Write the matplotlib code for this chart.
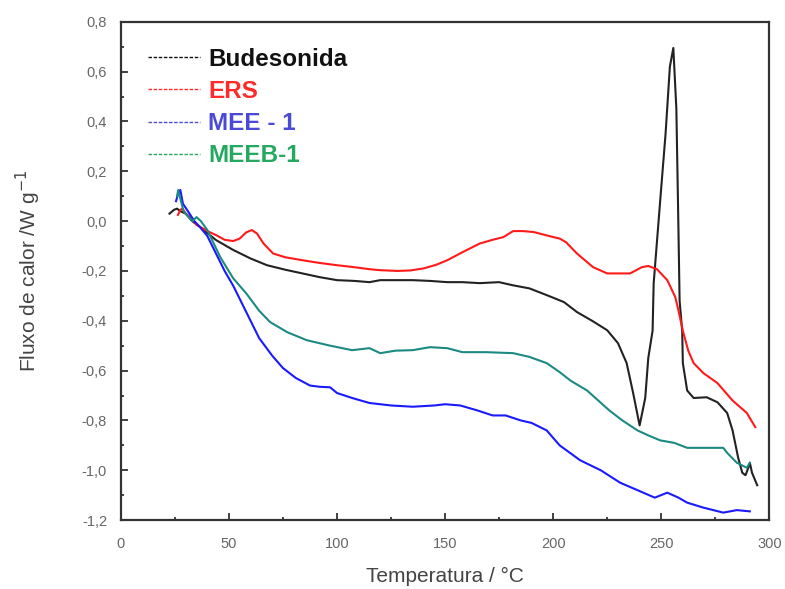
import matplotlib.pyplot as plt
from matplotlib.lines import Line2D
from matplotlib.ticker import MultipleLocator, FuncFormatter

plt.rcParams['font.family'] = ['Liberation Sans', 'DejaVu Sans']

# Budesonida
bud_t = [22.5, 24.5, 26, 27.5, 30, 33, 36.6, 44, 52, 60, 67.6, 76, 84, 92, 100, 108, 115,
         120, 128, 135, 143, 151, 158, 166, 175, 181, 189, 197, 205, 211, 218, 225, 230,
         234, 237, 240, 242.6, 244, 246, 246.5, 249.5, 252, 254, 255.6, 257, 258, 258.5,
         259.7, 260, 262, 265, 271, 276, 280.5, 283, 285.6, 287.5, 289, 290.3, 291, 292, 294.4]
bud_f = [0.03, 0.045, 0.05, 0.04, 0.03, 0.0, -0.024, -0.076, -0.116, -0.15, -0.177, -0.195,
         -0.21, -0.225, -0.237, -0.24, -0.245, -0.237, -0.237, -0.237, -0.24, -0.245, -0.245,
         -0.249, -0.245, -0.257, -0.27, -0.297, -0.325, -0.365, -0.4, -0.438, -0.49, -0.57,
         -0.69, -0.82, -0.71, -0.55, -0.44, -0.25, 0.08, 0.35, 0.62, 0.695, 0.45, -0.05, -0.32,
         -0.44, -0.57, -0.68, -0.71, -0.707, -0.727, -0.77, -0.84, -0.95, -1.01, -1.02, -0.99,
         -0.97, -1.01, -1.06]

# ERS
ers_t = [26.4, 27.5, 28.5, 30, 33, 35, 40, 44, 48, 52, 55, 58, 60.6, 63, 66, 70.4, 76, 84,
         92, 100, 108, 115, 120, 128, 134, 140, 146, 151, 158, 166, 172, 177, 181.5, 186, 191,
         196, 200, 203, 206, 211, 218.5, 225, 230, 235.6, 241, 244, 248, 252.8, 256.5, 258,
         260, 262.5, 265, 269.5, 276, 283, 289.6, 293.5]
ers_f = [0.025, 0.045, 0.05, 0.03, 0.01, -0.015, -0.04, -0.056, -0.075, -0.08, -0.07, -0.045,
         -0.036, -0.05, -0.09, -0.13, -0.145, -0.157, -0.168, -0.177, -0.185, -0.193, -0.197,
         -0.2, -0.198, -0.19, -0.175, -0.157, -0.125, -0.09, -0.075, -0.064, -0.04, -0.04,
         -0.044, -0.055, -0.064, -0.07, -0.085, -0.13, -0.185, -0.21, -0.21, -0.21, -0.185,
         -0.18, -0.193, -0.237, -0.305, -0.36, -0.44, -0.52, -0.57, -0.61, -0.65, -0.72,
         -0.77, -0.827]

# MEE - 1
mee_t = [25.5, 26.5, 27.5, 28.7, 31, 34, 36.6, 40, 44, 48, 52, 56, 60, 64, 70, 75, 81, 87.5,
         92, 96.8, 100, 107, 115, 125, 135, 145, 150, 157, 165, 172, 178, 185, 190, 197, 203,
         212.5, 222, 231, 241.7, 247, 252.8, 258, 262, 269.5, 278.7, 285, 291]
mee_f = [0.08, 0.11, 0.125, 0.07, 0.04, 0.0, -0.024, -0.06, -0.13, -0.2, -0.26, -0.33, -0.4,
         -0.47, -0.54, -0.59, -0.63, -0.66, -0.665, -0.667, -0.69, -0.71, -0.73, -0.74, -0.745,
         -0.74, -0.735, -0.74, -0.76, -0.78, -0.78, -0.8, -0.81, -0.84, -0.9, -0.96, -1.0,
         -1.05, -1.09, -1.11, -1.09, -1.11, -1.13, -1.15, -1.17, -1.16, -1.165]

# MEEB-1
meeb_t = [26, 26.5, 27.5, 29, 31, 33, 35, 37, 40, 46, 52, 58, 64, 69, 77, 86, 96.8, 107, 115,
          120, 127, 135, 143, 151, 158, 169, 181.5, 189, 197, 203, 208, 215.7, 226, 232, 239,
          244, 249.5, 256, 262, 271, 278.7, 280.5, 285, 289.6, 291]
meeb_f = [0.1, 0.125, 0.09, 0.04, 0.02, 0.0, 0.016, 0.0, -0.036, -0.145, -0.23, -0.29, -0.36,
          -0.405, -0.446, -0.478, -0.5, -0.518, -0.51, -0.53, -0.52, -0.518, -0.506, -0.51,
          -0.526, -0.526, -0.53, -0.545, -0.57, -0.606, -0.64, -0.68, -0.76, -0.8, -0.84,
          -0.86, -0.88, -0.89, -0.91, -0.91, -0.91, -0.93, -0.97, -0.99, -0.97]

labels = ['Budesonida', 'ERS', 'MEE - 1', 'MEEB-1']
line_colors = ['#222222', '#ff1a1a', '#1a1aff', '#1b8a82']
legend_colors = ['#111111', '#ff2a2a', '#4a4ad6', '#25a860']

fig = plt.figure(figsize=(7.85, 5.89), dpi=100)
ax = fig.add_axes([0.154, 0.117, 0.826, 0.846])

for t, f, c in zip([bud_t, ers_t, mee_t, meeb_t], [bud_f, ers_f, mee_f, meeb_f], line_colors):
    ax.plot(t, f, color=c, lw=1.5)

ax.set_xlim(0, 300)
ax.set_ylim(-1.2, 0.8)
ax.xaxis.set_major_locator(MultipleLocator(50))
ax.xaxis.set_minor_locator(MultipleLocator(25))
ax.yaxis.set_major_locator(MultipleLocator(0.2))
ax.yaxis.set_minor_locator(MultipleLocator(0.1))
ax.yaxis.set_major_formatter(FuncFormatter(lambda v, p: f'{v:.1f}'.replace('.', ',').replace('-0,0', '0,0')))
ax.tick_params(which='both', direction='in', top=False, right=False,
               labelsize=10.5, labelcolor='#666666', color='#333333', width=1.3)
ax.tick_params(axis='x', which='major', length=5, pad=12)
ax.tick_params(axis='y', which='major', length=5, pad=10)
ax.tick_params(which='minor', length=2.5)
for s in ax.spines.values():
    s.set_linewidth(1.6)
    s.set_color('#333333')

ax.set_xlabel('Temperatura / °C', fontsize=15, color='#444444', labelpad=12)
ax.set_ylabel('Fluxo de calor /W g$^{-1}$', fontsize=15, color='#444444', labelpad=28)

handles = [Line2D([], [], color=c, lw=1.0, ls=(0, (2.5, 1.2))) for c in legend_colors]
leg = ax.legend(handles, labels, loc='upper left', bbox_to_anchor=(0.042, 0.948),
                frameon=False, borderpad=0, borderaxespad=0,
                handlelength=2.14, handletextpad=0.33, labelspacing=0.38,
                prop={'weight': 'bold', 'size': 17.5})
for txt, c in zip(leg.get_texts(), legend_colors):
    txt.set_color(c)

fig.savefig('out.png', dpi=100)
